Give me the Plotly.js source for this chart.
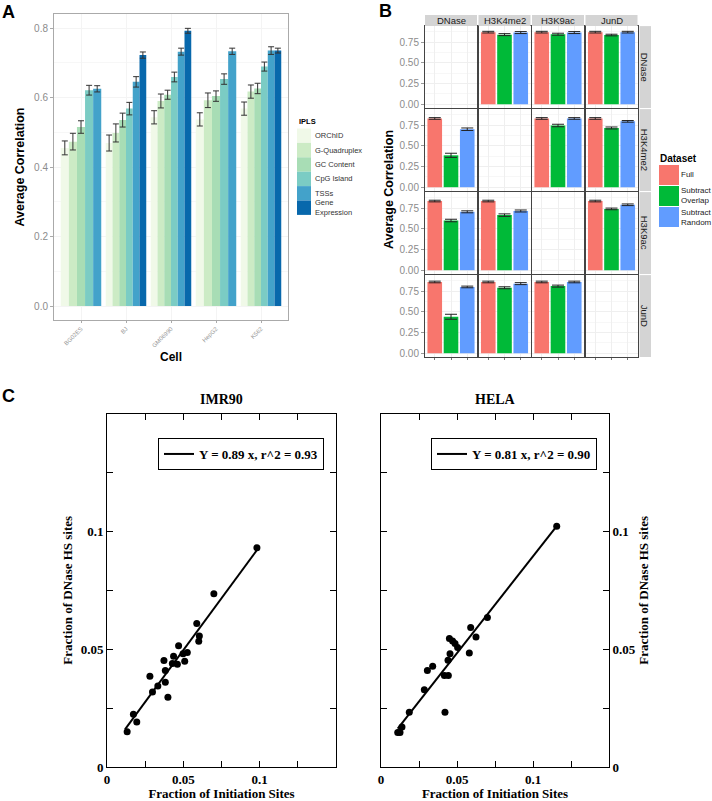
<!DOCTYPE html>
<html><head><meta charset="utf-8">
<script src="https://cdn.plot.ly/plotly-3.0.1.min.js"></script>
<style>html,body{margin:0;padding:0;background:#fff}#chart{width:712px;height:801px}</style>
</head><body><div id="chart"></div>
<script>
// ---------- Panel A data ----------
const cells = ['BG02ES','BJ','GM06990','HepG2','K562'];
const iplsNames = ['ORChID','G-Quadruplex','GC Content','CpG Island','TSSs','Gene Expression'];
const iplsColors = ['#f0f9e8','#ccebc5','#a8ddb5','#7bccc4','#43a2ca','#0868ac'];
const orchidMean  = [0.455,0.469,0.543,0.537,0.568];
const orchidErr   = [0.020,0.023,0.019,0.019,0.019];
const gquadMean   = [0.473,0.498,0.590,0.592,0.617];
const gquadErr    = [0.024,0.026,0.020,0.021,0.019];
const gcMean      = [0.515,0.535,0.608,0.604,0.626];
const gcErr       = [0.018,0.020,0.013,0.015,0.015];
const cpgMean     = [0.621,0.568,0.659,0.653,0.689];
const cpgErr      = [0.014,0.018,0.014,0.015,0.013];
const tssMean     = [0.625,0.645,0.732,0.733,0.735];
const tssErr      = [0.009,0.015,0.010,0.009,0.011];
const geneExpMean = [null,0.722,0.792,null,0.735];
const geneExpErr  = [null,0.009,0.007,null,0.007];

// ---------- Panel B data (rows = facet row, cols = facet column) ----------
const marks = ['DNase','H3K4me2','H3K9ac','JunD'];
const datasets = ['Full','Subtract Overlap','Subtract Random'];
const datasetColors = ['#F8766D','#00BA38','#619CFF'];
const fullMean = [
  [null,0.870,0.870,0.870],
  [0.830,null,0.830,0.830],
  [0.835,0.835,null,0.835],
  [0.860,0.860,0.860,null]];
const fullErr = [
  [null,0.010,0.010,0.010],
  [0.010,null,0.010,0.010],
  [0.010,0.010,null,0.010],
  [0.010,0.010,0.010,null]];
const overlapMean = [
  [null,0.840,0.845,0.835],
  [0.385,null,0.745,0.715],
  [0.600,0.665,null,0.740],
  [0.440,0.790,0.810,null]];
const overlapErr = [
  [null,0.012,0.012,0.010],
  [0.025,null,0.015,0.012],
  [0.015,0.015,null,0.010],
  [0.030,0.012,0.012,null]];
const randomMean = [
  [null,0.865,0.865,0.870],
  [0.700,null,0.830,0.795],
  [0.705,0.715,null,0.790],
  [0.800,0.840,0.860,null]];
const randomErr = [
  [null,0.012,0.012,0.010],
  [0.015,null,0.010,0.010],
  [0.012,0.012,null,0.010],
  [0.010,0.012,0.010,null]];

// ---------- Panel C data ----------
const imrX = [0.0132,0.0173,0.0195,0.0281,0.0298,0.0333,0.0373,0.0382,0.0382,0.0399,0.0428,0.0436,0.0461,0.0469,0.0498,0.0509,0.0526,0.0588,0.0605,0.0601,0.0700,0.0982];
const imrY = [0.0150,0.0224,0.0191,0.0385,0.0318,0.0344,0.0452,0.0410,0.0360,0.0296,0.0439,0.0470,0.0436,0.0515,0.0481,0.0449,0.0486,0.0609,0.0556,0.0534,0.0735,0.0930];
const imrFitX = [0.0118,0.0985];
const imrFitY = [0.0160,0.0923];
const helaX = [0.0110,0.0125,0.0138,0.0186,0.0285,0.0305,0.0340,0.0417,0.0443,0.0421,0.0441,0.0454,0.0450,0.0471,0.0487,0.0504,0.0581,0.0590,0.0625,0.0700,0.1156];
const helaY = [0.0146,0.0146,0.0170,0.0232,0.0328,0.0410,0.0427,0.0388,0.0388,0.0232,0.0453,0.0481,0.0545,0.0535,0.0524,0.0507,0.0484,0.0592,0.0552,0.0634,0.1022];
const helaFitX = [0.0110,0.1156];
const helaFitY = [0.0163,0.1022];
const imrLabel = 'Y = 0.89 x, r^2 = 0.93';
const helaLabel = 'Y = 0.81 x, r^2 = 0.90';

// ---------- helpers ----------
const W = 712, H = 801;
const fx = px => px / W;
const fy = py => 1 - py / H;
const SANS = 'Liberation Sans, Arial, sans-serif';
const SERIF = 'Liberation Serif, Times New Roman, serif';

const traces = [];
const shapes = [];
const annotations = [];
const layout = {
  width: W, height: H, margin: {l:0, r:0, t:0, b:0},
  paper_bgcolor: '#fff', plot_bgcolor: '#fff',
  barmode: 'overlay', showlegend: true,
  font: {family: SANS}
};

// ---------- Panel A ----------
const aMeans = [orchidMean, gquadMean, gcMean, cpgMean, tssMean, geneExpMean];
const aErrs  = [orchidErr, gquadErr, gcErr, cpgErr, tssErr, geneExpErr];
const present = cells.map((c, i) => aMeans.filter(m => m[i] !== null).length);
aMeans.forEach((means, s) => {
  const xs = [], ys = [], es = [], ws = [], os = [];
  cells.forEach((c, i) => {
    if (means[i] === null) return;
    let k = 0;
    for (let t = 0; t < s; t++) if (aMeans[t][i] !== null) k++;
    const w = 0.9 / present[i];
    xs.push(c); ys.push(means[i]); es.push(aErrs[s][i]);
    ws.push(w); os.push(-0.45 + k * w);
  });
  traces.push({
    type: 'bar', name: iplsNames[s], x: xs, y: ys, width: ws, offset: os,
    marker: {color: iplsColors[s], line: {width: 0}},
    error_y: {type: 'data', array: es, visible: true, color: '#333', thickness: 1, width: 3},
    xaxis: 'x', yaxis: 'y', showlegend: false
  });
});
layout.xaxis = {
  domain: [fx(54), fx(288)], anchor: 'y', type: 'category', categoryarray: cells,
  range: [-0.6, 4.6], tickangle: -45, tickfont: {size: 6, color: '#999', family: SANS},
  ticks: 'outside', ticklen: 2, tickcolor: '#aaa', showline: true, mirror: true,
  linecolor: '#aaa', showgrid: true, gridcolor: '#f4f4f4', zeroline: false,
  title: {text: 'Cell', font: {size: 12, weight: 'bold', color: '#000', family: SANS}, standoff: 4}
};
layout.yaxis = {
  domain: [fy(320), fy(14)], anchor: 'x', range: [-0.0403, 0.8403], dtick: 0.2, tick0: 0,
  tickformat: '.1f', tickfont: {size: 10, color: '#8c8c8c', family: SANS},
  ticks: 'outside', ticklen: 3, tickcolor: '#aaa', showline: true, mirror: true,
  linecolor: '#aaa', showgrid: true, gridcolor: '#f4f4f4', zeroline: false,
  minor: {dtick: 0.1, showgrid: true, gridcolor: '#f7f7f7'},
  title: {text: 'Average Correlation', font: {size: 12.5, weight: 'bold', color: '#000', family: SANS}, standoff: 6}
};
// legend A (custom keys)
annotations.push({xref:'paper', yref:'paper', x: fx(297), y: fy(121), xanchor:'left', yanchor:'middle',
  text: 'IPLS', showarrow: false, font: {size: 7.5, weight: 'bold', color: '#000', family: SANS}});
iplsNames.forEach((n, i) => {
  const top = 128.5 + 14.4 * i;
  shapes.push({type:'rect', xref:'paper', yref:'paper', x0: fx(297), x1: fx(311),
    y0: fy(top + 14.4), y1: fy(top), fillcolor: iplsColors[i], line: {width: 0}});
  annotations.push({xref:'paper', yref:'paper', x: fx(313), y: fy(top + 7.2), xanchor:'left', yanchor:'middle',
    text: n.length > 12 ? n.replace(' ', '<br>') : n, showarrow: false, align: 'left',
    font: {size: 7.5, color: '#333', family: SANS}});
});

// ---------- Panel B ----------
const colLeft = [425, 478.5, 532, 585.5], colW = 52;
const rowTop = r => 26.1 + 83 * r, rowH = 81.9;
const bMeans = [fullMean, overlapMean, randomMean];
const bErrs = [fullErr, overlapErr, randomErr];
for (let r = 0; r < 4; r++) {
  for (let c = 0; c < 4; c++) {
    const idx = 2 + r * 4 + c;
    const xn = 'x' + idx, yn = 'y' + idx;
    if (r === c) {
      traces.push({type: 'scatter', x: [], y: [], xaxis: xn, yaxis: yn, showlegend: false, hoverinfo: 'skip'});
    } else {
      datasets.forEach((d, k) => {
        traces.push({
          type: 'bar', name: d, x: [d], y: [bMeans[k][r][c]], width: 0.9,
          marker: {color: datasetColors[k], line: {width: 0}},
          error_y: {type: 'data', array: [bErrs[k][r][c]], visible: true, color: '#222', thickness: 1, width: 6},
          xaxis: xn, yaxis: yn, showlegend: false
        });
      });
    }
    layout['xaxis' + idx] = {
      domain: [fx(colLeft[c]), fx(colLeft[c] + colW)], anchor: yn, type: 'category',
      categoryarray: datasets, range: [-0.6, 2.6], showticklabels: false,
      ticks: 'outside', ticklen: 2, tickcolor: '#777', showline: true, mirror: true,
      linecolor: '#444', linewidth: 1, showgrid: true, gridcolor: '#efefef', zeroline: false
    };
    layout['yaxis' + idx] = {
      domain: [fy(rowTop(r) + rowH), fy(rowTop(r))], anchor: xn, range: [-0.046, 0.943],
      tickvals: [0, 0.25, 0.5, 0.75], ticktext: ['0.00','0.25','0.50','0.75'],
      showticklabels: c === 0, ticks: c === 0 ? 'outside' : '', ticklen: 3, tickcolor: '#999',
      tickfont: {size: 10, color: '#8c8c8c', family: SANS},
      showline: true, mirror: true, linecolor: '#444', linewidth: 1,
      showgrid: true, gridcolor: '#efefef', zeroline: false,
      minor: {tickvals: [0.125, 0.375, 0.625, 0.875], showgrid: true, gridcolor: '#f7f7f7'}
    };
  }
}
// strips
marks.forEach((m, c) => {
  shapes.push({type:'rect', xref:'paper', yref:'paper', x0: fx(colLeft[c]), x1: fx(colLeft[c] + colW),
    y0: fy(26), y1: fy(15), fillcolor: '#d4d4d4', line: {width: 0}});
  annotations.push({xref:'paper', yref:'paper', x: fx(colLeft[c] + colW / 2), y: fy(20.5),
    xanchor:'center', yanchor:'middle', text: m, showarrow: false,
    font: {size: 9.5, color: '#1a1a1a', family: SANS}});
});
marks.forEach((m, r) => {
  shapes.push({type:'rect', xref:'paper', yref:'paper', x0: fx(639.5), x1: fx(651),
    y0: fy(rowTop(r) + rowH), y1: fy(rowTop(r)), fillcolor: '#d4d4d4', line: {width: 0}});
  annotations.push({xref:'paper', yref:'paper', x: fx(645.3), y: fy(rowTop(r) + rowH / 2),
    xanchor:'center', yanchor:'middle', text: m, textangle: 90, showarrow: false,
    font: {size: 9.5, color: '#1a1a1a', family: SANS}});
});
annotations.push({xref:'paper', yref:'paper', x: fx(389), y: fy(190), xanchor:'center', yanchor:'middle',
  text: 'Average Correlation', textangle: -90, showarrow: false,
  font: {size: 12.5, weight: 'bold', color: '#000', family: SANS}});
// legend B (custom keys)
annotations.push({xref:'paper', yref:'paper', x: fx(658), y: fy(158), xanchor:'left', yanchor:'middle',
  text: 'Dataset', showarrow: false, font: {size: 10, weight: 'bold', color: '#000', family: SANS}});
datasets.forEach((d, k) => {
  const top = 165 + 21 * k;
  shapes.push({type:'rect', xref:'paper', yref:'paper', x0: fx(659), x1: fx(679),
    y0: fy(top + 20), y1: fy(top), fillcolor: datasetColors[k], line: {width: 0}});
  annotations.push({xref:'paper', yref:'paper', x: fx(680), y: fy(top + 10), xanchor:'left', yanchor:'middle',
    text: d.replace(' ', '<br>'), showarrow: false, align: 'left', borderpad: 0,
    font: {size: 8, color: '#1a1a1a', family: SANS}});
});

// ---------- Panel C ----------
const cTickVals = [0, 0.025, 0.05, 0.075, 0.1, 0.125];
const cTickText = ['0', '', '0.05', '', '0.1', ''];
const cFont = {family: SERIF, size: 13, weight: 'bold', color: '#000'};
function cAxis(domain, anchor, extra) {
  return Object.assign({
    domain: domain, anchor: anchor, range: [0, 0.15], tickvals: cTickVals, ticktext: cTickText,
    ticks: 'inside', ticklen: 6, tickcolor: '#000', tickwidth: 1, showline: true, mirror: 'allticks',
    linecolor: '#000', linewidth: 1, showgrid: false, zeroline: false, tickfont: cFont
  }, extra);
}
const panelsC = [
  {name: 'IMR90', x: imrX, y: imrY, fx: imrFitX, fy: imrFitY, label: imrLabel, left: 107, right: 336, side: 'left', leg: 158, ys: 5},
  {name: 'HELA', x: helaX, y: helaY, fx: helaFitX, fy: helaFitY, label: helaLabel, left: 381, right: 609, side: 'right', leg: 431, ys: 3}
];
panelsC.forEach((p, i) => {
  const idx = 18 + i;
  const xn = 'x' + idx, yn = 'y' + idx;
  traces.push({type: 'scatter', mode: 'lines', name: p.label, x: p.fx, y: p.fy,
    line: {color: '#000', width: 2}, xaxis: xn, yaxis: yn, showlegend: true, legend: 'legend' + (2 + i)});
  traces.push({type: 'scatter', mode: 'markers', name: p.name, x: p.x, y: p.y,
    marker: {color: '#000', size: 7}, xaxis: xn, yaxis: yn, showlegend: false});
  layout['xaxis' + idx] = cAxis([fx(p.left), fx(p.right)], yn,
    {title: {text: 'Fraction of Initiation Sites', font: cFont, standoff: 5}});
  layout['yaxis' + idx] = cAxis([fy(767), fy(413.5)], xn,
    {side: p.side, title: {text: 'Fraction of DNase HS sites', font: cFont, standoff: p.ys}});
  layout['legend' + (2 + i)] = {
    x: fx(p.leg), y: fy(438), xanchor: 'left', yanchor: 'top', bgcolor: '#fff',
    bordercolor: '#000', borderwidth: 1, font: {family: SERIF, size: 13, weight: 'bold', color: '#000'}
  };
  annotations.push({xref:'paper', yref:'paper', x: fx((p.left + p.right) / 2), y: fy(399),
    xanchor:'center', yanchor:'middle', text: p.name, showarrow: false,
    font: {family: SERIF, size: 14, weight: 'bold', color: '#000'}});
});

// panel letters
[['A', 8.5, 1], ['B', 385.5, 0], ['C', 8.5, 385]].forEach(l => {
  annotations.push({xref:'paper', yref:'paper', x: fx(l[1]), y: fy(l[2]), xanchor:'center', yanchor:'top',
    text: l[0], showarrow: false, borderpad: 0,
    font: {size: 18, weight: 'bold', color: '#000', family: SANS}});
});

layout.shapes = shapes;
layout.annotations = annotations;
Plotly.newPlot('chart', traces, layout, {displayModeBar: false, staticPlot: true});
</script>
</body></html>
